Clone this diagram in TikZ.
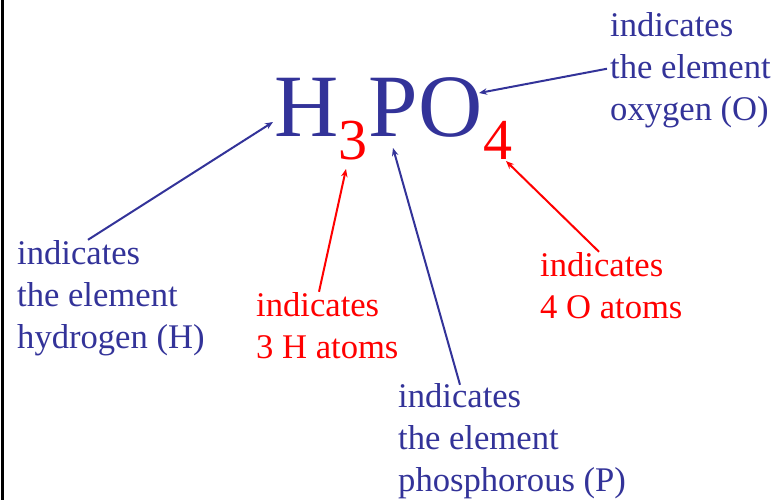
\documentclass[tikz,border=0pt]{standalone}
\usepackage{fontspec}
\setmainfont{Liberation Serif}
\usetikzlibrary{positioning,arrows.meta,calc}
\definecolor{symblue}{RGB}{51,51,153}

\begin{document}
\begin{tikzpicture}[x=1pt,y=-1pt,
  formula/.style={inner sep=0pt, symblue, font=\fontsize{89}{89}\selectfont},
  subscr/.style={inner sep=0pt, red, font=\fontsize{58}{58}\selectfont},
  note/.style={inner sep=0pt, align=left, anchor=base west, font=\fontsize{34.6}{42}\selectfont},
  pointer/.style={line width=2pt, -{Stealth[length=8pt,width=6.5pt]}}]
\useasboundingbox (0,0) rectangle (776,500);
\draw[line width=2.5pt] (2.5,0) -- (2.5,500);
% the formula
\node[formula, anchor=base west] (H) at (274,137) {H};
\node[subscr, right=0pt of H.base east, anchor=base west, yshift=-22pt] (three) {3};
\node[formula, right=0pt of H.base east, anchor=base west, xshift=30pt] (P) {P};
\node[formula, right=0pt of P.base east, anchor=base west] (O) {O};
\node[subscr, right=0pt of O.base east, anchor=base west, yshift=-22pt] (four) {4};
% the notes (placed by their last line)
\node[note, symblue] (lblH) at (17,348) {indicates\\the element\\hydrogen (H)};
\node[note, red] (lblthree) at (256,358) {indicates\\3 H atoms};
\node[note, symblue] (lblP) at (398,491) {indicates\\the element\\phosphorous (P)};
\node[note, red] (lblfour) at (540,318) {indicates\\4 O atoms};
\node[note, symblue] (lblO) at (610,121) {indicates\\the element\\oxygen (O)};
% arrow tips
\coordinate (tipH) at (273,122);
\coordinate (tipthree) at (346,169);
\coordinate (tipP) at (393,148);
\coordinate (tipfour) at (506,161);
\coordinate (tipO) at (479,93);
\draw[pointer, symblue] ($(lblH.north west)+(71,0)$) -- (tipH);
\draw[pointer, red] ($(lblthree.north west)+(63,0)$) -- (tipthree);
\draw[pointer, symblue] ($(lblP.north west)+(62,2)$) -- (tipP);
\draw[pointer, red] ($(lblfour.north west)+(59,0)$) -- (tipfour);
\draw[pointer, symblue] ($(lblO.west)+(-3,-2)$) -- (tipO);
\end{tikzpicture}
\end{document}
